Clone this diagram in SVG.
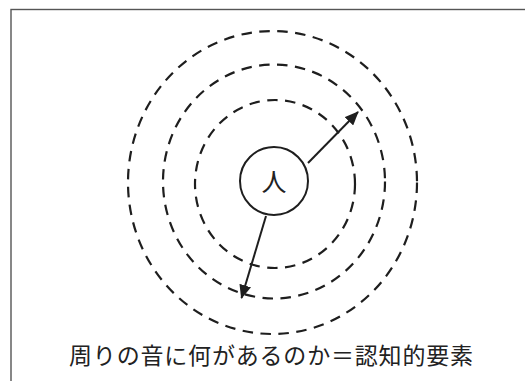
<svg xmlns="http://www.w3.org/2000/svg" width="525" height="381" viewBox="0 0 525 381">
  <defs>
    <marker id="ah" viewBox="0 0 14 12" refX="13" refY="6" markerWidth="14" markerHeight="12" markerUnits="userSpaceOnUse" orient="auto">
      <path d="M0,0 L14,6 L0,12 Z" fill="#1e1e1e"/>
    </marker>
    <style>
      .ring { fill: none; stroke: #1e1e1e; stroke-width: 2.2; stroke-dasharray: 10.5 7.5; }
      .conn { fill: none; stroke: #1e1e1e; stroke-width: 2; marker-end: url(#ah); }
      .lbl { font-family: "Noto Sans CJK JP", "Noto Sans", sans-serif; fill: #222; text-anchor: middle; }
    </style>
  </defs>
  <rect x="0" y="0" width="525" height="381" fill="#ffffff"/>
  <rect x="11" y="9.5" width="530" height="390" fill="none" stroke="#555" stroke-width="1.4"/>
  <g id="rings">
    <ellipse id="ring-outer" class="ring" cx="272.5" cy="182.5" rx="144.5" ry="151.5"/>
    <ellipse id="ring-middle" class="ring" cx="274" cy="181.5" rx="111" ry="117"/>
    <ellipse id="ring-inner" class="ring" cx="275" cy="184" rx="80" ry="84"/>
  </g>
  <g id="person">
    <circle cx="274" cy="181" r="34" fill="#fff" stroke="#1e1e1e" stroke-width="2"/>
    <text class="lbl" x="274" y="190.5" font-size="25">人</text>
  </g>
  <g id="connectors">
    <line class="conn" x1="308" y1="163" x2="358" y2="112"/>
    <line class="conn" x1="266" y1="216" x2="241.5" y2="298"/>
  </g>
  <g id="caption">
    <text class="lbl" x="271" y="364" font-size="23" textLength="404" lengthAdjust="spacing">周りの音に何があるのか＝認知的要素</text>
  </g>
</svg>
